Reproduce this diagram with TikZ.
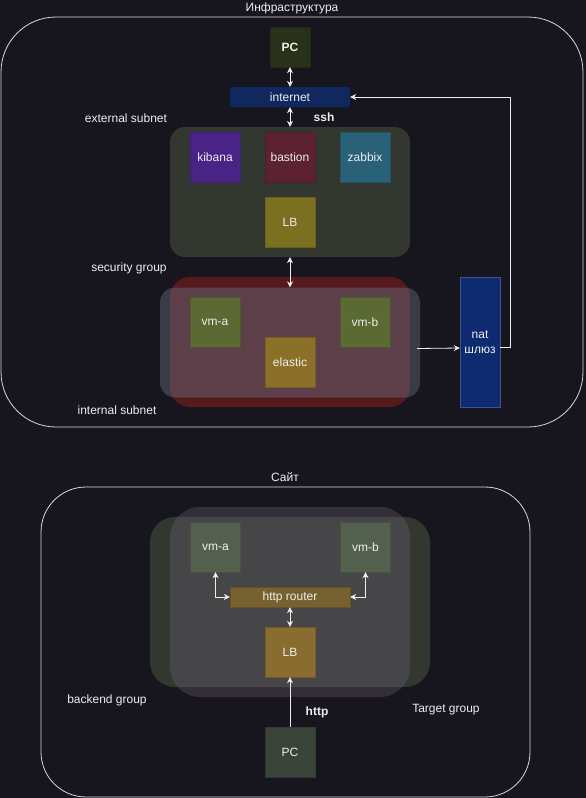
\documentclass[tikz,border=0pt]{standalone}
\usepackage{fontspec}
\setmainfont{Liberation Sans}
\usepackage{xcolor}
\usetikzlibrary{arrows.meta, positioning}
\definecolor{sfondo}{HTML}{17151D}
\definecolor{bordo}{HTML}{D9D9D9}
\definecolor{testo}{HTML}{EEEEEE}
\definecolor{pcuno}{HTML}{283218}
\definecolor{rete}{HTML}{10285E}
\definecolor{subext}{HTML}{323830}
\definecolor{kibana}{HTML}{4A2387}
\definecolor{bastion}{HTML}{5D2230}
\definecolor{zabbix}{HTML}{296278}
\definecolor{lbuno}{HTML}{7A7020}
\definecolor{secgroup}{HTML}{561A1D}
\definecolor{subint}{HTML}{647081}
\definecolor{vmuno}{HTML}{5A6A32}
\definecolor{elastic}{HTML}{8A7028}
\definecolor{nat}{HTML}{0E2B72}
\definecolor{backend}{HTML}{323830}
\definecolor{target}{HTML}{73647D}
\definecolor{vmdue}{HTML}{54604E}
\definecolor{router}{HTML}{77622F}
\definecolor{lbdue}{HTML}{886C30}
\definecolor{pcdue}{HTML}{3A4438}
\newcommand{\testo}{\fontsize{12}{15}\selectfont}

\begin{document}
\begin{tikzpicture}[x = 1pt, y = -1pt, font = \testo, text = testo,
    scatola/.style = {fill = #1, draw = #1!85!black, inner sep = 0pt, minimum width = 50pt, minimum height = 50pt},
    gruppo/.style = {fill = #1, inner sep = 0pt},
    cornice/.style = {draw = bordo, line width = 0.8pt, inner sep = 0pt},
    freccia/.style = {draw = testo, line width = 0.8pt, -{Stealth[length = 6pt, width = 6pt]}},
    doppia/.style = {draw = testo, line width = 0.8pt, {Stealth[length = 6pt, width = 6pt]}-{Stealth[length = 6pt, width = 6pt]}}]
    % Sfondo
    \fill[sfondo] (0,0) rectangle (586,798);
    \useasboundingbox (0,0) rectangle (586,798);
    % Infrastruttura
    \node[cornice, rounded corners = 55pt, minimum width = 582pt, minimum height = 410pt] (infra) at (292,222) {};
    \node (titoloinfra) at (292,8) {Инфраструктура};
    \node[scatola = pcuno, minimum width = 40pt, minimum height = 40pt, font = \testo\bfseries] (pc) at (290,47) {PC};
    \node[scatola = rete, rounded corners = 2pt, minimum width = 120pt, minimum height = 20pt] (internet) at (290,97) {internet};
    \node[gruppo = subext, rounded corners = 15pt, minimum width = 240pt, minimum height = 130pt] (ext) at (290,192) {};
    \node (extlabel) at (126,118) {external subnet};
    \node[font = \testo\bfseries] (ssh) at (324,117) {ssh};
    \node[scatola = kibana] (kib) at (215,157) {kibana};
    \node[scatola = bastion] (bast) at (290,157) {bastion};
    \node[scatola = zabbix] (zab) at (365,157) {zabbix};
    \node[scatola = lbuno] (lbuno) at (290,222) {LB};
    \node (seclabel) at (129,268) {security group};
    \node[gruppo = secgroup, rounded corners = 20pt, minimum width = 240pt, minimum height = 130pt] (sec) at (290,342) {};
    \node[gruppo = subint, fill opacity = 0.43, rounded corners = 15pt, minimum width = 260pt, minimum height = 110pt] (isub) at (290,342.5) {};
    \node (intlabel) at (117,410) {internal subnet};
    \node[scatola = vmuno] (vma) at (215,322) {vm-a};
    \node[scatola = vmuno] (vmb) at (365,322) {vm-b};
    \node[scatola = elastic] (elk) at (290,362) {elastic};
    \node[scatola = nat, draw = nat!80!white, minimum width = 40pt, minimum height = 130pt, align = center] (nat) at (480,342) {nat\\шлюз};
    \coordinate (giro) at (510,97);
    % Frecce
    \draw[doppia] (pc) -- (internet);
    \draw[doppia] (internet) -- (ext);
    \draw[doppia] (ext) -- (isub);
    \draw[freccia] ([xshift = -3pt, yshift = -6pt]isub.east) -- ([yshift = -6pt]nat.west);
    \draw[freccia] ([yshift = -5pt]nat.east) -| (giro) -- (internet.east);
    % Sito
    \node[cornice, rounded corners = 45pt, minimum width = 489pt, minimum height = 310pt] (sito) at (285.5,642) {};
    \node (titolosito) at (285,477) {Сайт};
    \node[gruppo = backend, rounded corners = 25pt, minimum width = 280pt, minimum height = 170pt] (back) at (290,602) {};
    \node[gruppo = target, fill opacity = 0.32, rounded corners = 30pt, minimum width = 240pt, minimum height = 190pt] (targ) at (290,602) {};
    \node (backlabel) at (107,700) {backend group};
    \node (targlabel) at (446,710) {Target group};
    \node[scatola = vmdue] (vmadue) at (215.5,547) {vm-a};
    \node[scatola = vmdue] (vmbdue) at (365.5,547) {vm-b};
    \node[scatola = router, minimum width = 120pt, minimum height = 20pt] (router) at (290,597) {http router};
    \node[scatola = lbdue] (lbdue) at (290,652) {LB};
    \node[scatola = pcdue] (pcdue) at (290,752) {PC};
    \node[font = \testo\bfseries] (http) at (317,712) {http};
    % Frecce
    \draw[doppia] (vmadue.south) |- (router.west);
    \draw[doppia] (vmbdue.south) |- (router.east);
    \draw[doppia] (router) -- (lbdue);
    \draw[freccia] (pcdue) -- (lbdue);
\end{tikzpicture}
\end{document}
